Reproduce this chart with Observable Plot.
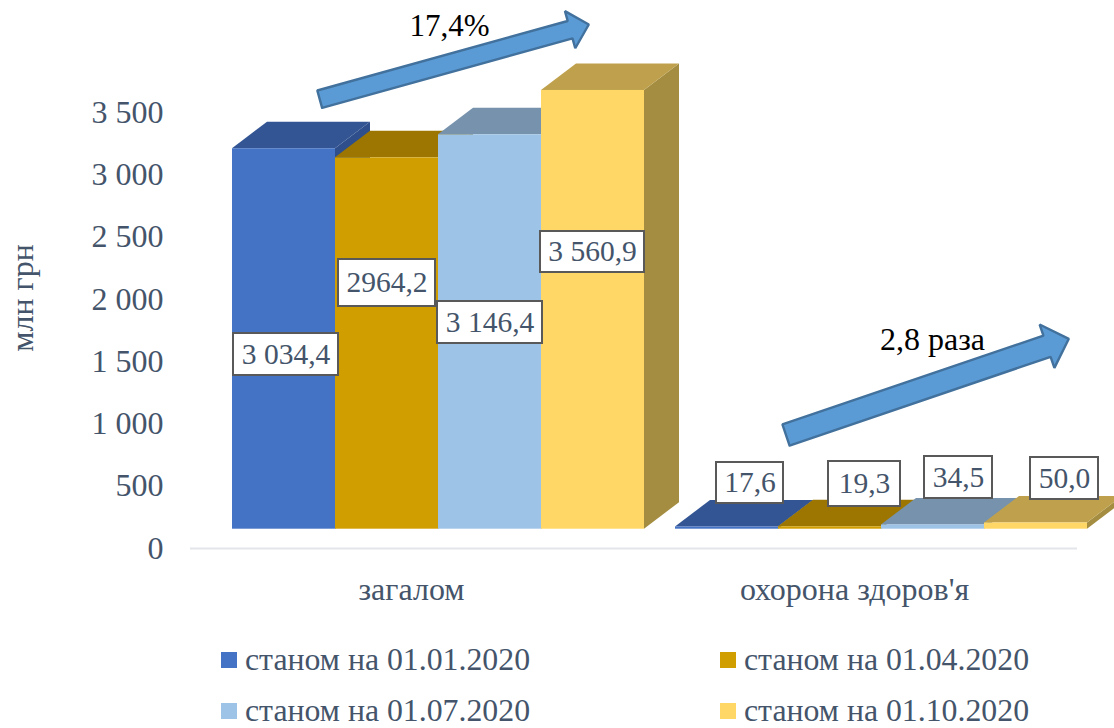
<!DOCTYPE html>
<html lang="uk">
<head>
<meta charset="utf-8">
<script src="https://cdn.jsdelivr.net/npm/d3@7"></script>
<script src="https://cdn.jsdelivr.net/npm/@observablehq/plot@0.6"></script>
<style>
  html, body { margin: 0; padding: 0; background: #fff; overflow: hidden; }
  #legend { position: relative; height: 88px; font: 31.8px "Liberation Serif", serif; color: #44546a; }
  .item { position: absolute; white-space: nowrap; line-height: 36px; }
  .item i { position: absolute; left: 0; top: 10px; width: 16px; height: 16px; }
  .item span { position: absolute; left: 24px; top: 0; }
</style>
</head>
<body>
<div id="chart"></div>
<div id="legend"></div>
<script>
// Data
const categories = ["загалом", "охорона здоров'я"];
const seriesNames = ["станом на 01.01.2020", "станом на 01.04.2020", "станом на 01.07.2020", "станом на 01.10.2020"];
// Bar heights as drawn in the picture, read against the axis
const totalHeights = [3054, 2981, 3166, 3522];
const healthHeights = [17.6, 19.3, 34.5, 50.0];
// Printed data labels
const totalLabels = ["3 034,4", "2964,2", "3 146,4", "3 560,9"];
const healthLabels = ["17,6", "19,3", "34,5", "50,0"];
const yTicks = [0, 500, 1000, 1500, 2000, 2500, 3000, 3500];
const yTitle = "млн грн";
const growthLabels = ["17,4%", "2,8 раза"];

// Styles
const frontColors = ["#4472c4", "#d19e00", "#9dc3e6", "#ffd766"];
const topColors = ["#335593", "#9c7600", "#7692ad", "#bfa14d"];
const sideColors = ["#2e4f8c", "#8a6900", "#6d879f", "#a48d40"];
const textColor = "#44546a";

// Layout: the x scale is in bar widths, the y scale in axis values
const xRange = [232, 335], yRange = [548, 112];
const xs = d3.scaleLinear([0, 1], xRange), ys = d3.scaleLinear([0, 3500], yRange);
const X = xs.invert, Y = ys.invert;
const groupStart = [0, X(675)];
const depthX = X(267) - X(232), depthY = Y(521.5) - Y(548);
const lift = Y(528.7);

function barMarks(heights, g) {
  return heights.flatMap((h, s) => {
    const left = groupStart[g] + s, right = left + 1, top = lift + h;
    return [
      Plot.area([{x: right, y1: lift, y2: top}, {x: right + depthX, y1: lift + depthY, y2: top + depthY}],
        {x1: "x", y1: "y1", y2: "y2", fill: sideColors[s]}),
      Plot.area([{y: top, x1: left, x2: right}, {y: top + depthY, x1: left + depthX, x2: right + depthX}],
        {y1: "y", x1: "x1", x2: "x2", fill: topColors[s]}),
      Plot.rect([{x1: left, x2: right, y1: lift, y2: top}],
        {x1: "x1", x2: "x2", y1: "y1", y2: "y2", fill: frontColors[s], inset: 0})
    ];
  });
}

// Label boxes [left, right, top, bottom]
const boxes = [
  [233, 338, 333, 375], [338, 435, 259, 306], [437, 542, 301, 343], [540, 644, 231, 272],
  [716, 783, 462, 503], [828, 900, 461, 506], [924, 992, 456, 498], [1030, 1098, 457, 499]
];
const labelRows = [...totalLabels, ...healthLabels].map((label, i) => {
  const [l, r, t, b] = boxes[i];
  return {label, x1: X(l), x2: X(r), y1: Y(b), y2: Y(t), x: X((l + r) / 2), y: Y((t + b) / 2)};
});

function arrowPoly(tail, tip, shaft, headW, headL) {
  const dx = tip[0] - tail[0], dy = tip[1] - tail[1], len = Math.hypot(dx, dy);
  const ux = dx / len, uy = dy / len, nx = -uy, ny = ux;
  const bx = tip[0] - ux * headL, by = tip[1] - uy * headL;
  const pts = [
    [tail[0] + nx * shaft / 2, tail[1] + ny * shaft / 2],
    [bx + nx * shaft / 2, by + ny * shaft / 2],
    [bx + nx * headW / 2, by + ny * headW / 2],
    tip,
    [bx - nx * headW / 2, by - ny * headW / 2],
    [bx - nx * shaft / 2, by - ny * shaft / 2],
    [tail[0] - nx * shaft / 2, tail[1] - ny * shaft / 2]
  ];
  pts.push(pts[0]);
  return pts.map(([px, py]) => ({x: X(px), y: Y(py)}));
}
const arrowMark = (poly) => Plot.line(poly, {x: "x", y: "y", fill: "#5b9bd5", stroke: "#41719c", strokeWidth: 2.4, strokeLinejoin: "miter"});

const fmt = d3.formatLocale({thousands: " ", grouping: [3], decimal: ","}).format(",");

const chart = Plot.plot({
  width: 1114, height: 640,
  marginLeft: 170, marginRight: 0, marginTop: 0, marginBottom: 0,
  style: {fontFamily: "'Liberation Serif', serif", background: "#fff"},
  x: {domain: [0, 1], range: xRange, axis: null},
  y: {domain: [0, 3500], range: yRange, axis: null},
  marks: [
    Plot.axisY({ticks: yTicks, tickSize: 0, tickPadding: 7, tickFormat: fmt, label: null, fontSize: 32, fill: textColor, color: textColor}),
    Plot.ruleY([0], {x1: X(190), x2: X(1077), stroke: "#e3e5ea", strokeWidth: 2}),
    Plot.text([yTitle], {x: X(22), y: Y(297.5), text: d => d, rotate: -90, fontSize: 32, fill: textColor}),
    ...barMarks(totalHeights, 0),
    ...barMarks(healthHeights, 1),
    Plot.text(categories, {x: (d, i) => groupStart[i] + 2, y: 0, dx: -27, dy: 41, text: d => d, fontSize: 32, fill: textColor}),
    Plot.rect(labelRows, {x1: "x1", x2: "x2", y1: "y1", y2: "y2", fill: "#fff", stroke: "#595959", strokeWidth: 2, inset: 0}),
    Plot.text(labelRows, {x: "x", y: "y", text: "label", fontSize: 29.5, fill: textColor}),
    arrowMark(arrowPoly([319.2, 98.7], [588.3, 24], 18, 38.5, 19.4)),
    arrowMark(arrowPoly([785.5, 434.5], [1068.3, 338.3], 22.3, 45.8, 23)),
    Plot.text([growthLabels[0]], {x: X(449), y: Y(26), text: d => d, fontSize: 31, fill: "#000"}),
    Plot.text([growthLabels[1]], {x: X(932), y: Y(339), text: d => d, fontSize: 32, fill: "#000"})
  ]
});
document.getElementById("chart").appendChild(chart);

const legend = document.getElementById("legend");
seriesNames.forEach((name, i) => {
  const el = document.createElement("div");
  el.className = "item";
  el.style.left = (i % 2 ? 720 : 221) + "px";
  el.style.top = (i < 2 ? 2 : 53) + "px";
  el.innerHTML = `<i style="background:${frontColors[i]}"></i><span>${name}</span>`;
  legend.appendChild(el);
});
</script>
</body>
</html>
